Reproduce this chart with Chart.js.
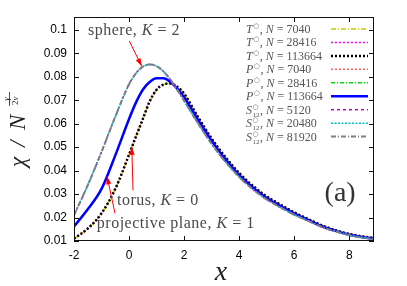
<!DOCTYPE html>
<html><head><meta charset="utf-8">
<script src="https://cdn.jsdelivr.net/npm/chart.js@4"></script>
<style>html,body{margin:0;padding:0;background:#fff}</style>
</head><body>
<canvas id="c" width="407" height="286"></canvas>
<script>
// ---- data ----
const xGrid   = [-2,-1.5,-1,-0.5,0,0.25,0.5,0.75,1,1.25,1.5,1.75,2,2.5,3,3.5,4,4.5,5,5.5,6,6.5,7,7.5,8,8.5,8.9];
const torusY  = [0.011,0.0153,0.0218,0.0322,0.0468,0.0545,0.062,0.0695,0.0745,0.0767,0.0772,0.0758,0.0728,0.063,0.0537,0.0458,0.039,0.0335,0.029,0.0255,0.0222,0.0194,0.0167,0.0146,0.0130,0.0119,0.0113];
const projY   = [0.0162,0.0235,0.0322,0.0465,0.062,0.069,0.0745,0.0778,0.0794,0.0794,0.0778,0.075,0.0713,0.0618,0.0527,0.0448,0.0381,0.0327,0.0283,0.0249,0.0217,0.0190,0.0163,0.0143,0.0127,0.0116,0.0110];
const sphereY = [0.021,0.0338,0.048,0.063,0.0768,0.0815,0.0843,0.0853,0.0845,0.0823,0.0788,0.0745,0.0698,0.0603,0.0514,0.0438,0.0373,0.032,0.0277,0.0243,0.0212,0.0186,0.0160,0.0141,0.0125,0.0114,0.0108];
const xTicks  = [-2,0,2,4,6,8];
const yTicks  = [0.01,0.02,0.03,0.04,0.05,0.06,0.07,0.08,0.09,0.1];
const legendSurface = ['T','T','T','P','P','P','S','S','S'];
const legendSub     = ['','','','','','','12','12','12'];
const legendN       = [7040,28416,113664,7040,28416,113664,5120,20480,81920];
const seriesY       = [torusY,torusY,torusY,projY,projY,projY,sphereY,sphereY,sphereY];

// ---- styles ----
const colors = ['#c8c800','#ff00ff','#000000','#ff6060','#00e000','#0000ff','#c000c0','#00c0c0','#808080'];
const dashes = [[5,2,1,2],[2,2],[2,2],[2,2],[4,2,1,2],[],[3,3],[2,1.5],[5,2,1,2]];
const widths = [1.5,1.5,2.5,1.5,1.5,2.5,1.5,1.5,2];

const datasets = seriesY.map((ys,i)=>({
  label: legendSurface[i]+legendSub[i]+' N='+legendN[i],
  data: xGrid.map((x,j)=>({x:x,y:ys[j]})),
  showLine:true, pointRadius:0, borderColor:colors[i], backgroundColor:colors[i],
  borderWidth:widths[i], borderDash:dashes[i], cubicInterpolationMode:'monotone',
  fill:false, order: 9-i
}));

function runs(ctx,x,y,parts){
  for(const p of parts){ctx.font=p.f;ctx.fillText(p.t,x,y);x+=ctx.measureText(p.t).width;}
  return x;
}
function arrow(ctx,x0,y0,x1,y1){
  ctx.save();ctx.strokeStyle='#ff0000';ctx.fillStyle='#ff0000';ctx.lineWidth=1;
  ctx.beginPath();ctx.moveTo(x0,y0);ctx.lineTo(x1,y1);ctx.stroke();
  const a=Math.atan2(y1-y0,x1-x0),L=8,W=2.6;
  ctx.beginPath();ctx.moveTo(x1,y1);
  ctx.lineTo(x1-L*Math.cos(a)+W*Math.sin(a),y1-L*Math.sin(a)-W*Math.cos(a));
  ctx.lineTo(x1-L*Math.cos(a)-W*Math.sin(a),y1-L*Math.sin(a)+W*Math.cos(a));
  ctx.closePath();ctx.fill();ctx.restore();
}
const SER='"Liberation Serif", "Times New Roman", serif';
const deco={
  id:'deco',
  afterDatasetsDraw(chart){
    const ctx=chart.ctx, xs=chart.scales.x, ys=chart.scales.y, a=chart.chartArea;
    ctx.save();
    // frame + inward ticks
    ctx.strokeStyle='#111';ctx.lineWidth=1;
    ctx.strokeRect(a.left+0.5,a.top+0.5,a.right-a.left-1,a.bottom-a.top-1);
    ctx.beginPath();
    for(const v of xTicks){const p=Math.round(xs.getPixelForValue(v))+0.5;
      ctx.moveTo(p,a.bottom);ctx.lineTo(p,a.bottom-5);ctx.moveTo(p,a.top);ctx.lineTo(p,a.top+5);}
    for(const v of yTicks){const p=Math.round(ys.getPixelForValue(v))+0.5;
      ctx.moveTo(a.left,p);ctx.lineTo(a.left+5,p);ctx.moveTo(a.right,p);ctx.lineTo(a.right-5,p);}
    ctx.stroke();
    // annotations
    const X=v=>xs.getPixelForValue(v), Y=v=>ys.getPixelForValue(v);
    ctx.fillStyle='#4a4a4a';ctx.textBaseline='middle';ctx.textAlign='left';
    ctx.letterSpacing='0.5px';
    const rf='16px '+SER, itf='italic 16px '+SER;
    runs(ctx,X(-1.49),Y(0.0995),[{t:'sphere, ',f:rf},{t:'K',f:itf},{t:' = 2',f:rf}]);
    runs(ctx,X(-0.44),Y(0.0272),[{t:'torus, ',f:rf},{t:'K',f:itf},{t:' = 0',f:rf}]);
    runs(ctx,X(-1.17),Y(0.0174),[{t:'projective plane, ',f:rf},{t:'K',f:itf},{t:' = 1',f:rf}]);
    ctx.letterSpacing='0px';
    arrow(ctx,X(0.01),Y(0.0953),X(0.46),Y(0.0845));
    arrow(ctx,X(0.145),Y(0.0316),X(0.10),Y(0.0501));
    arrow(ctx,X(-0.51),Y(0.0218),X(-0.80),Y(0.0376));
    ctx.fillStyle='#333';ctx.font='28px '+SER;ctx.textAlign='center';
    ctx.fillText('(a)',X(7.67),Y(0.0303));
    // legend
    ctx.textAlign='left';ctx.textBaseline='alphabetic';
    for(let i=0;i<9;i++){
      const yy=29+i*13.45, x0=246;
      ctx.fillStyle='#555';
      ctx.font='italic 12px '+SER;ctx.fillText(legendSurface[i],x0,yy+4);
      let x=x0+ctx.measureText(legendSurface[i]).width+0.5;
      ctx.font='7px "DejaVu Sans", sans-serif';ctx.fillText('○',x,yy-1);
      let w=ctx.measureText('○').width;
      if(legendSub[i]){ctx.font='7px '+SER;ctx.fillText(legendSub[i],x,yy+7);w=Math.max(w,ctx.measureText(legendSub[i]).width);}
      x+=w+0.5;
      x=runs(ctx,x,yy+4,[{t:', ',f:'12px '+SER},{t:'N',f:'italic 12px '+SER},{t:' = '+legendN[i],f:'12px '+SER}]);
      ctx.strokeStyle=colors[i];ctx.lineWidth=widths[i];ctx.setLineDash(dashes[i]);
      ctx.beginPath();ctx.moveTo(331,yy);ctx.lineTo(368,yy);ctx.stroke();ctx.setLineDash([]);
    }
    // axis titles
    ctx.fillStyle='#222';ctx.textAlign='center';ctx.textBaseline='alphabetic';
    ctx.font='italic 28px '+SER;ctx.fillText('x',221,280);
    ctx.save();ctx.translate(25,167);ctx.rotate(-Math.PI/2);ctx.textAlign='left';
    ctx.font='italic 23px '+SER;
    ctx.fillText('χ',0,0);ctx.fillText('/',20,0);ctx.fillText('N',37,0);
    ctx.textAlign='center';ctx.font='italic 9px '+SER;
    ctx.fillText('γ',68,-16.5);
    ctx.fillRect(61,-15.8,14,0.8);
    ctx.textBaseline='top';ctx.textAlign='left';
    runs(ctx,62,-14.2,[{t:'2',f:'9px '+SER},{t:'ν',f:'italic 9px '+SER}]);
    ctx.restore();
    ctx.restore();
  }
};

new Chart(document.getElementById('c'),{
  type:'scatter',
  data:{datasets:datasets},
  options:{
    responsive:false, animation:false, devicePixelRatio:1,
    layout:{padding:{left:0,right:33,top:17,bottom:0}},
    plugins:{legend:{display:false},tooltip:{enabled:false}},
    scales:{
      x:{type:'linear',min:-2,max:8.9,
        afterBuildTicks:s=>{s.ticks=xTicks.map(v=>({value:v}));},
        afterFit:s=>{s.height=45;},
        grid:{display:false,drawTicks:false},border:{display:false},
        ticks:{color:'#000',padding:7,font:{family:'"Liberation Sans", Arial, sans-serif',size:12},callback:v=>String(v)}},
      y:{type:'linear',min:0.01,max:0.1055,
        afterBuildTicks:s=>{s.ticks=yTicks.map(v=>({value:v}));},
        afterFit:s=>{s.width=74;},
        grid:{display:false,drawTicks:false},border:{display:false},
        ticks:{color:'#000',padding:7,font:{family:'"Liberation Sans", Arial, sans-serif',size:12},callback:v=>String(v)}}
    }
  },
  plugins:[deco]
});
</script>
</body></html>
